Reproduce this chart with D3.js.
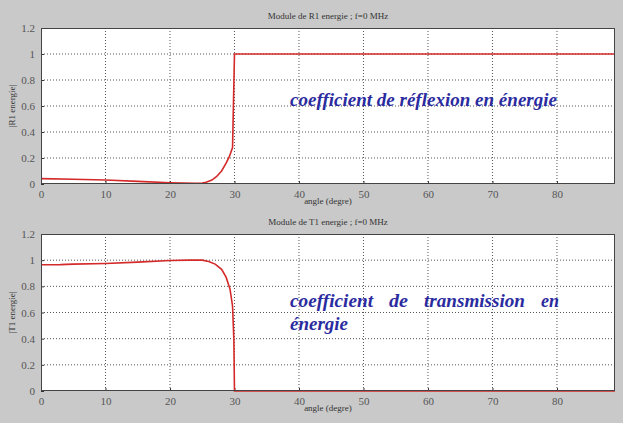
<!DOCTYPE html>
<html>
<head>
<meta charset="utf-8">
<script src="https://cdn.jsdelivr.net/npm/d3@7"></script>
<style>
  body { margin: 0; background: #c9c9c9; }
  svg { display: block; }
</style>
</head>
<body>
<svg id="chart" width="623" height="423"></svg>
<script>
// angle (degre) and energy coefficients
const anglesR = [0, 5, 10, 15, 20, 22, 24, 25, 25.6, 26.5, 27.2, 28, 28.7, 29.2, 29.7, 30, 89];
const R1 = [0.041, 0.036, 0.031, 0.02, 0.01, 0.007, 0.006, 0.007, 0.013, 0.03, 0.056, 0.1, 0.16, 0.21, 0.28, 1, 1];

const anglesT = [0, 3, 5, 10, 15, 20, 23, 25, 26, 27, 28, 28.7, 29.3, 29.7, 29.9, 30, 89];
const T1 = [0.965, 0.966, 0.97, 0.975, 0.985, 0.998, 1.0, 1.0, 0.99, 0.97, 0.93, 0.87, 0.78, 0.65, 0.4, 0, 0];

const xTicks = [0, 10, 20, 30, 40, 50, 60, 70, 80];
const yTicks = [0, 0.2, 0.4, 0.6, 0.8, 1, 1.2];

const svg = d3.select('#chart');

const panels = [
    { top: 28, bottom: 184, xs: anglesR, ys: R1, title: 'Module de R1 energie ; f=0 MHz', ylab: '|R1 energie|' },
    { top: 234, bottom: 391, xs: anglesT, ys: T1, title: 'Module de T1 energie ; f=0 MHz', ylab: '|T1 energie|' }
];

const left = 41, right = 615;
const serif = '"Liberation Serif", "Times New Roman", serif';

panels.forEach(p => {
    const x = d3.scaleLinear().domain([0, 89]).range([left, right]);
    const y = d3.scaleLinear().domain([0, 1.2]).range([p.bottom, p.top]);
    const g = svg.append('g');

    g.append('rect')
        .attr('x', left).attr('y', p.top)
        .attr('width', right - left).attr('height', p.bottom - p.top)
        .attr('fill', 'white');

    // dotted grid
    g.selectAll('.vg').data(xTicks.slice(1)).enter().append('line')
        .attr('x1', d => x(d)).attr('x2', d => x(d))
        .attr('y1', p.top).attr('y2', p.bottom)
        .attr('stroke', '#555').attr('stroke-width', 1)
        .attr('stroke-dasharray', '1,2');
    g.selectAll('.hg').data(yTicks.slice(1, -1)).enter().append('line')
        .attr('x1', left).attr('x2', right)
        .attr('y1', d => y(d)).attr('y2', d => y(d))
        .attr('stroke', '#555').attr('stroke-width', 1)
        .attr('stroke-dasharray', '1,2');

    const xAxis = d3.axisBottom(x).tickValues(xTicks).tickSize(-3).tickPadding(6).tickFormat(d3.format('d'));
    const yAxis = d3.axisLeft(y).tickValues(yTicks).tickSize(-3).tickPadding(6).tickFormat(d => d3.format('')(+d.toFixed(1)));

    g.append('g').attr('transform', `translate(0,${p.bottom})`).call(xAxis);
    g.append('g').attr('transform', `translate(${left},0)`).call(yAxis);
    g.selectAll('.domain').remove();
    g.selectAll('.tick line').attr('stroke', '#333');
    g.selectAll('.tick text')
        .attr('font-family', serif).attr('font-size', 11).attr('fill', '#555');

    const line = d3.line().x((d, i) => x(p.xs[i])).y(d => y(d));
    g.append('path')
        .datum(p.ys)
        .attr('d', line)
        .attr('fill', 'none')
        .attr('stroke', '#d42a2a')
        .attr('stroke-width', 1.6);

    g.append('rect')
        .attr('x', left + 0.5).attr('y', p.top + 0.5)
        .attr('width', right - left - 1).attr('height', p.bottom - p.top - 1)
        .attr('fill', 'none').attr('stroke', '#444').attr('stroke-width', 1);

    g.append('text')
        .attr('x', (left + right) / 2).attr('y', p.top - 9)
        .attr('text-anchor', 'middle')
        .attr('font-family', serif).attr('font-size', 9).attr('fill', '#333')
        .text(p.title);

    g.append('text')
        .attr('x', (left + right) / 2).attr('y', p.bottom + 20)
        .attr('text-anchor', 'middle')
        .attr('font-family', serif).attr('font-size', 9).attr('fill', '#333')
        .text('angle (degre)');

    g.append('text')
        .attr('transform', `translate(15,${(p.top + p.bottom) / 2}) rotate(-90)`)
        .attr('text-anchor', 'middle')
        .attr('font-family', serif).attr('font-size', 9).attr('fill', '#333')
        .text(p.ylab);
});

// blue annotations
const blue = '#2b2ba0';
function note(txt, xpos, ypos, len) {
    const t = svg.append('text')
        .attr('x', xpos).attr('y', ypos)
        .attr('font-family', serif).attr('font-size', 18)
        .attr('font-weight', 'bold').attr('font-style', 'italic')
        .attr('fill', blue)
        .text(txt);
    if (len) t.attr('textLength', len).attr('lengthAdjust', 'spacingAndGlyphs');
}
note('coefficient de réflexion en énergie', 290, 106, 267);
note('coefficient', 290, 307, 83);
note('de', 389, 307, 19);
note('transmission', 424, 307, 101);
note('en', 541, 307, 18);
note('énergie', 290, 330, 58);
</script>
</body>
</html>
